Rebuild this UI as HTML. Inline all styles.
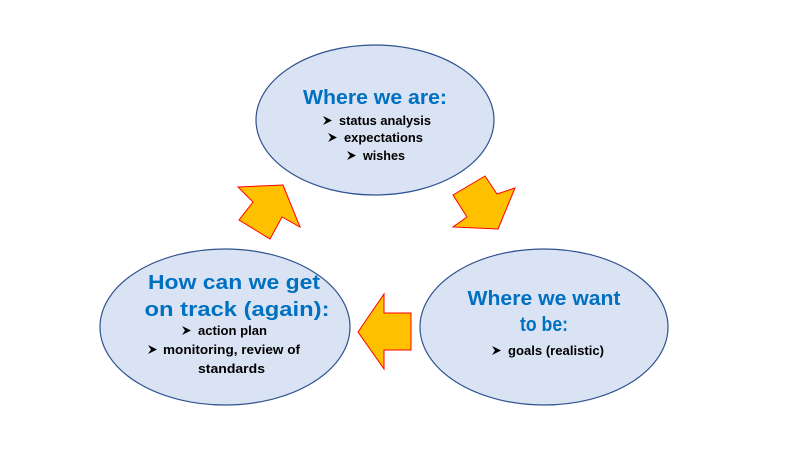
<!DOCTYPE html>
<html><head><meta charset="utf-8"><style>html,body{margin:0;padding:0;background:#fff}svg{display:block}</style></head>
<body>
<svg width="800" height="450" viewBox="0 0 800 450" xmlns="http://www.w3.org/2000/svg" font-family="Liberation Sans, sans-serif" font-weight="bold">
<g fill="#dae3f3" stroke="#2f528f" stroke-width="1.2">
<ellipse cx="375" cy="120" rx="119" ry="75"/>
<ellipse cx="225" cy="327" rx="125" ry="78"/>
<ellipse cx="544" cy="327" rx="124" ry="78"/>
</g>
<g fill="#ffc000" stroke="#ff0000" stroke-width="1" stroke-linejoin="miter">
<polygon points="358,332 384,294 384,313 411,313 411,350 384,350 384,369"/>
<polygon points="238,187 283,185 300,227 282,217 270,239 239,220 253,202"/>
<polygon points="498,229 515,188 497,194 485,176 453,195 467,217 453,227"/>
</g>
<g fill="#0070c0" text-anchor="middle" font-size="20">
<text x="375" y="104" textLength="144" lengthAdjust="spacingAndGlyphs">Where we are:</text>
<text x="234" y="289" textLength="172" lengthAdjust="spacingAndGlyphs">How can we get</text>
<text x="237" y="316" textLength="185" lengthAdjust="spacingAndGlyphs">on track (again):</text>
<text x="544" y="305" textLength="153" lengthAdjust="spacingAndGlyphs">Where we want</text>
<text x="544" y="331" textLength="48" lengthAdjust="spacingAndGlyphs">to be:</text>
</g>
<g fill="#000" font-size="12.5">
<text x="339" y="125" textLength="92" lengthAdjust="spacingAndGlyphs">status analysis</text>
<text x="344" y="142" textLength="79" lengthAdjust="spacingAndGlyphs">expectations</text>
<text x="363" y="160" textLength="42" lengthAdjust="spacingAndGlyphs">wishes</text>
<text x="198" y="335" textLength="69" lengthAdjust="spacingAndGlyphs">action plan</text>
<text x="163" y="354" textLength="137" lengthAdjust="spacingAndGlyphs">monitoring, review of</text>
<text x="198" y="373" textLength="67" lengthAdjust="spacingAndGlyphs">standards</text>
<text x="508" y="355" textLength="96" lengthAdjust="spacingAndGlyphs">goals (realistic)</text>
</g>
<g fill="#000">
<polygon points="323,116 332,120.5 323,125 326,120.5"/>
<polygon points="328,133 337,137.5 328,142 331,137.5"/>
<polygon points="347,151 356,155.5 347,160 350,155.5"/>
<polygon points="182,326 191,330.5 182,335 185,330.5"/>
<polygon points="148,345 157,349.5 148,354 151,349.5"/>
<polygon points="492,346 501,350.5 492,355 495,350.5"/>
</g>
</svg>
</body></html>
